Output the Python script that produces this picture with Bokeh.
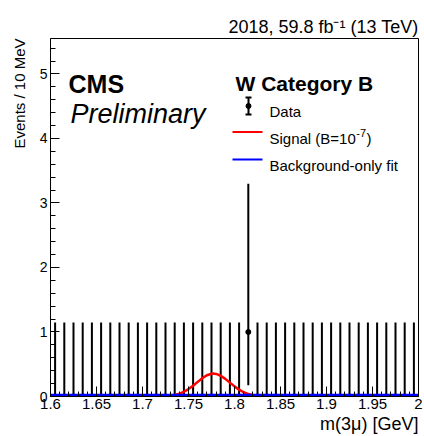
from bokeh.plotting import figure
from bokeh.models import Range1d, FixedTicker, CustomJSTickFormatter, Label, Title
from bokeh.embed import file_html
from bokeh.resources import INLINE

# ---------------- data ----------------
bin_centers = [1.605, 1.615, 1.625, 1.635, 1.645, 1.655, 1.665, 1.675, 1.685, 1.695,
               1.705, 1.715, 1.725, 1.735, 1.745, 1.755, 1.765, 1.775, 1.785, 1.795,
               1.805, 1.815, 1.825, 1.835, 1.845, 1.855, 1.865, 1.875, 1.885, 1.895,
               1.905, 1.915, 1.925, 1.935, 1.945, 1.955, 1.965, 1.975, 1.985, 1.995]
counts = [0, 0, 0, 0, 0, 0, 0, 0, 0, 0,
          0, 0, 0, 0, 0, 0, 0, 0, 0, 0,
          0, 1, 0, 0, 0, 0, 0, 0, 0, 0,
          0, 0, 0, 0, 0, 0, 0, 0, 0, 0]
# Poisson (Garwood) error bars as drawn
err_down = {0: 0.0, 1: 0.827}
err_up = {0: 1.148, 1: 2.30}

signal_x = [1.600, 1.720, 1.730, 1.735, 1.740, 1.745, 1.750, 1.755, 1.760, 1.765,
            1.770, 1.775, 1.777, 1.780, 1.785, 1.790, 1.795, 1.800, 1.805, 1.810,
            1.815, 1.820, 1.825, 1.835, 2.000]
signal_y = [0.000, 0.003, 0.012, 0.023, 0.043, 0.073, 0.115, 0.168, 0.227, 0.284,
            0.329, 0.353, 0.355, 0.350, 0.322, 0.273, 0.215, 0.157, 0.106, 0.066,
            0.038, 0.020, 0.010, 0.002, 0.000]

bkg_x = [1.60, 1.70, 1.80, 1.90, 2.00]
bkg_y = [0.020, 0.020, 0.020, 0.020, 0.020]

x_ticks = [1.6, 1.65, 1.7, 1.75, 1.8, 1.85, 1.9, 1.95, 2.0]
y_ticks = [0, 1, 2, 3, 4, 5]

XMIN, XMAX = 1.6, 2.0
YMIN, YMAX = 0.0, 5.55

# ---------------- layout geometry (pixels) ----------------
W, H = 424, 436
FL, FR, FT, FB = 50, 418, 38, 396   # frame edges in canvas pixels
FW, FH = FR - FL, FB - FT


def dx(cx):
    return XMIN + (cx - FL) / FW * (XMAX - XMIN)


def dy(cy):
    return YMIN + (FB - cy) / FH * (YMAX - YMIN)


def sx(cx):
    return cx - FL


def sy(cy):
    return FB - cy


FONT = "Liberation Sans"

p = figure(width=W, height=H, x_range=Range1d(XMIN, XMAX), y_range=Range1d(YMIN, YMAX),
           output_backend="svg", toolbar_location=None,
           min_border_left=FL, min_border_right=W - FR,
           min_border_top=FT, min_border_bottom=H - FB)
p.xgrid.visible = False
p.ygrid.visible = False
p.background_fill_color = "white"
p.border_fill_color = "white"
p.outline_line_color = "black"
p.outline_line_width = 1
p.outline_line_alpha = 1.0

# top-right luminosity title
p.title.text = "2018, 59.8 fb\u207b\u00b9 (13 TeV)"
p.title.align = "right"
p.title.text_font = FONT
p.title.text_font_size = "18px"
p.title.text_font_style = "normal"
p.title.text_color = "black"
p.title.standoff = 4

x_minor = [round(1.6 + 0.01 * i, 2) for i in range(41)]
y_minor = [round(0.2 * i, 1) for i in range(28)]
p.xaxis.ticker = FixedTicker(ticks=x_ticks, minor_ticks=x_minor)
p.yaxis.ticker = FixedTicker(ticks=y_ticks, minor_ticks=y_minor)
p.xaxis.formatter = CustomJSTickFormatter(code="return String(parseFloat(tick.toFixed(3)))")
p.yaxis.formatter = CustomJSTickFormatter(code="return String(parseFloat(tick.toFixed(3)))")

for ax in (p.xaxis[0], p.yaxis[0]):
    ax.axis_line_color = "black"
    ax.axis_line_width = 1
    ax.major_tick_out = 0
    ax.minor_tick_out = 0
    ax.major_tick_line_color = "black"
    ax.minor_tick_line_color = "black"
    ax.major_label_text_font = FONT
    ax.major_label_text_color = "black"
p.xaxis.major_label_text_font_size = "15px"
p.yaxis.major_label_text_font_size = "14px"
p.xaxis.major_tick_in = 10
p.xaxis.minor_tick_in = 5
p.yaxis.major_tick_in = 9
p.yaxis.minor_tick_in = 5
p.xaxis.major_label_standoff = 2
p.yaxis.major_label_standoff = 3

# axis titles (ROOT style: right / top aligned)
p.add_layout(Title(text="m(3\u03bc) [GeV]", align="right", text_font=FONT,
                   text_font_size="18px", text_font_style="normal", text_color="black",
                   standoff=0), "below")
p.add_layout(Title(text="Events / 10 MeV", align="right", text_font=FONT,
                   text_font_size="15px", text_font_style="normal", text_color="black",
                   standoff=17), "left")

# ---------------- data marks ----------------
lo = [n - err_down[n] for n in counts]
hi = [n + err_up[n] for n in counts]
p.segment(x0=bin_centers, y0=lo, x1=bin_centers, y1=hi, line_color="black", line_width=2)
p.scatter(bin_centers, counts, size=5, color="black")
p.line(signal_x, signal_y, line_color="red", line_width=2.5)
p.line(bkg_x, bkg_y, line_color="blue", line_width=3)

# ---------------- legend symbols ----------------
lx = 248
p.segment(x0=[dx(lx)], y0=[dy(97)], x1=[dx(lx)], y1=[dy(114)], line_color="black", line_width=2)
p.segment(x0=[dx(lx - 3), dx(lx - 3)], y0=[dy(97), dy(114)], x1=[dx(lx + 3), dx(lx + 3)],
          y1=[dy(97), dy(114)], line_color="black", line_width=2)
p.scatter([dx(lx)], [dy(105.5)], size=5, color="black")
p.segment(x0=[dx(232)], y0=[dy(131.5)], x1=[dx(262)], y1=[dy(131.5)], line_color="red", line_width=2)
p.segment(x0=[dx(232)], y0=[dy(159)], x1=[dx(262)], y1=[dy(159)], line_color="blue", line_width=2)


def add_label(text, cx, cy, size, align="left", style="normal"):
    p.add_layout(Label(x=sx(cx), y=sy(cy), x_units="screen", y_units="screen", text=text,
                       text_font=FONT, text_font_size=f"{size}px", text_font_style=style,
                       text_align=align, text_baseline="alphabetic", text_color="black"))


add_label("CMS", 68, 83, 25, style="bold")
add_label("Preliminary", 70, 113, 27, style="italic")
add_label("W Category B", 235, 83, 21, style="bold")

LS = 15
add_label("Data", 269, 111, LS)
sig_main = "Signal (B=10"
sig_w = 5.753 * LS
add_label(sig_main, 269, 138, LS)
SUP = 11
add_label("-7", 269 + sig_w + 0.5, 132, SUP)
add_label(")", 269 + sig_w + 0.889 * SUP + 1, 138, LS)
add_label("Background-only fit", 269, 165, LS)

open("out.html", "w").write(file_html(p, INLINE))
